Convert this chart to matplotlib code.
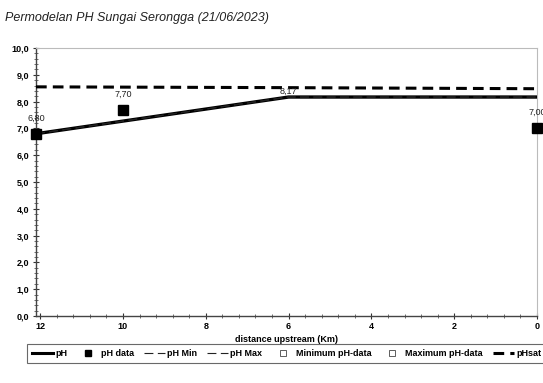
import numpy as np
import matplotlib.pyplot as plt
from matplotlib.lines import Line2D
from matplotlib.ticker import MultipleLocator, FuncFormatter

plt.rcParams['font.family'] = ['Liberation Sans', 'DejaVu Sans']

# model pH along the river
model_x = [12.1, 6.0, 0.0]
model_ph = [6.80, 8.17, 8.17]

# measured pH
data_x = [12.1, 10.0, 0.0]
data_ph = [6.80, 7.70, 7.00]

# saturation pH
sat_x = [12.1, 6.0, 0.0]
sat_ph = [8.55, 8.52, 8.48]

# labelled model point
lab_x = 6.0
lab_ph = 8.17

fig = plt.figure(figsize=(5.43, 3.83), dpi=100)
ax = fig.add_axes([0.0663, 0.175, 0.9227, 0.6997])

ax.plot(model_x, model_ph, color='black', lw=2.4, solid_capstyle='butt', zorder=3)
ax.plot(model_x, model_ph, color='#222222', lw=0.8, dashes=(8, 4), zorder=3)
ax.plot(model_x, model_ph, color='#222222', lw=0.8, dashes=(8, 4), zorder=3)
ax.plot(sat_x, sat_ph, color='black', lw=2.2, dashes=(3.5, 2), zorder=3)
ax.plot(data_x, data_ph, ls='none', marker='s', ms=7.5, color='black', zorder=4, clip_on=False)

for x, y in zip(data_x, data_ph):
    ax.annotate(f'{y:.2f}'.replace('.', ','), (x, y), xytext=(0, 8), textcoords='offset points',
                ha='center', va='bottom', fontsize=6.5, color='#222222')
ax.annotate(f'{lab_ph:.2f}'.replace('.', ','), (lab_x, lab_ph), xytext=(0, 1), textcoords='offset points',
            ha='center', va='bottom', fontsize=6.5, color='#222222')

ax.set_xlim(12.1, 0)
ax.set_ylim(0, 10)
ax.xaxis.set_major_locator(MultipleLocator(2))
ax.xaxis.set_minor_locator(MultipleLocator(0.4))
ax.yaxis.set_major_locator(MultipleLocator(1))
ax.yaxis.set_minor_locator(MultipleLocator(0.2))
ax.yaxis.set_major_formatter(FuncFormatter(lambda v, p: f'{v:.1f}'.replace('.', ',')))
ax.xaxis.set_major_formatter(FuncFormatter(lambda v, p: f'{v:.0f}'))
ax.tick_params(axis='both', which='major', direction='inout', length=5, width=0.8,
               labelsize=6.5, colors='#333333', labelcolor='black')
ax.tick_params(axis='both', which='minor', direction='inout', length=3, width=0.6, colors='#555555')
ax.tick_params(axis='x', pad=2)
ax.tick_params(axis='y', pad=2.5)
for lab in ax.get_xticklabels() + ax.get_yticklabels():
    lab.set_fontweight('bold')

for s in ['left', 'bottom']:
    ax.spines[s].set_color('#444444')
    ax.spines[s].set_linewidth(1.0)
for s in ['top', 'right']:
    ax.spines[s].set_color('#bbbbbb')
    ax.spines[s].set_linewidth(0.8)

ax.set_xlabel('distance upstream (Km)', fontsize=6.5, fontweight='bold', labelpad=2.5)

fig.text(0.01, 0.952, 'Permodelan PH Sungai Serongga (21/06/2023)', fontsize=9,
         style='italic', ha='left', va='center', color='#222222')

handles = [
    Line2D([], [], color='black', lw=2.2),
    Line2D([], [], ls='none', marker='s', ms=4, color='black'),
    Line2D([], [], color='#222222', lw=0.8, dashes=(8, 4)),
    Line2D([], [], color='#222222', lw=0.8, dashes=(8, 4)),
    Line2D([], [], ls='none', marker='s', ms=4, mfc='white', mec='#444444', mew=0.6),
    Line2D([], [], ls='none', marker='s', ms=4, mfc='white', mec='#444444', mew=0.6),
    Line2D([], [], color='black', lw=2.2, dashes=(3.5, 2)),
]
labels = ['pH', 'pH data', 'pH Min', 'pH Max', 'Minimum pH-data', 'Maximum pH-data', 'pHsat']
leg = fig.legend(handles, labels, loc='center left', bbox_to_anchor=(0.05, 0.076), ncol=7,
                 fontsize=6.5, frameon=True, fancybox=False, edgecolor='#444444',
                 handlelength=2.3, handletextpad=0.25, columnspacing=1.15, borderpad=0.55,
                 borderaxespad=0)
leg.get_frame().set_linewidth(0.8)
for t in leg.get_texts():
    t.set_fontweight('bold')

fig.savefig('out.png', dpi=100)
